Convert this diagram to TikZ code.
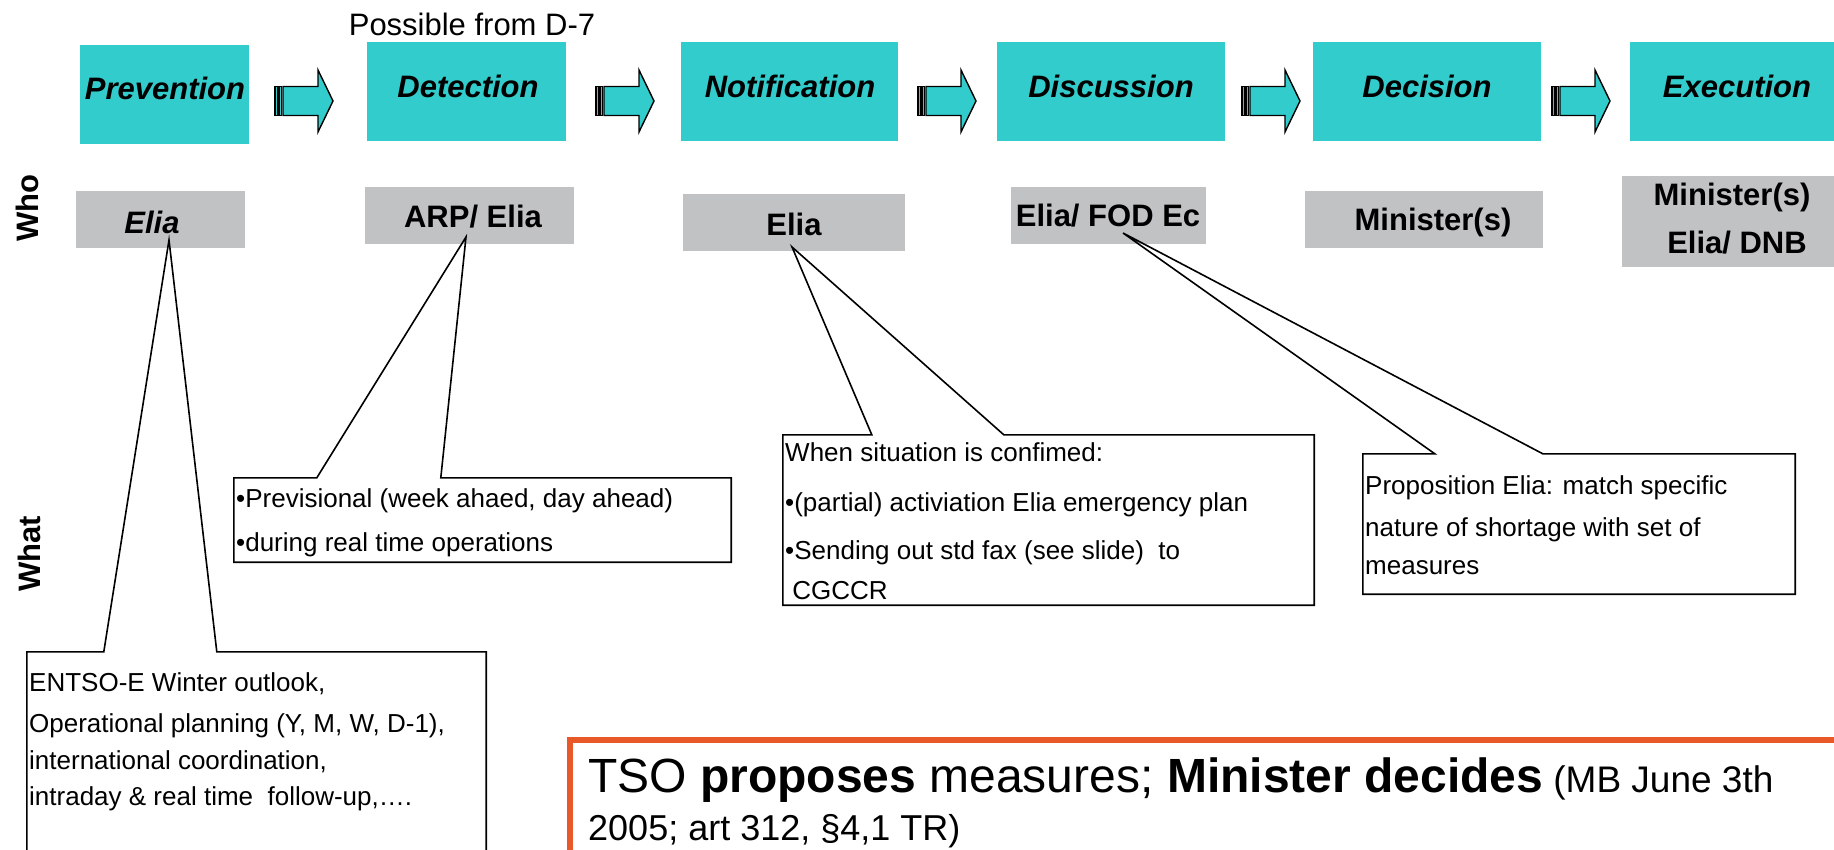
\documentclass[tikz,border=0pt]{standalone}
\usepackage{fontspec}
\setmainfont{Liberation Sans}
\usetikzlibrary{fit,calc}
\definecolor{tealbox}{RGB}{51,204,204}
\definecolor{greybox}{RGB}{192,194,196}
\definecolor{orangeline}{RGB}{232,88,40}
\newcommand{\fsz}[1]{\fontsize{#1}{#1}\selectfont}
\begin{document}
\begin{tikzpicture}[x=1pt,y=-1pt,
  phasebox/.style={fill=tealbox, draw=none, inner sep=0pt},
  whobox/.style={fill=greybox, draw=none, inner sep=0pt},
  phasetext/.style={font=\fsz{31}\bfseries\itshape, inner sep=0pt},
  whotext/.style={font=\fsz{31}\bfseries, inner sep=0pt},
  whoitext/.style={font=\fsz{31}\bfseries\itshape, inner sep=0pt},
  sidetext/.style={font=\fsz{31}\bfseries, inner sep=0pt, rotate=90},
  calltext/.style={font=\fsz{26}, inner sep=0pt, anchor=base west},
  callbox/.style={draw=none, inner sep=0pt},
  callout/.style={draw=black, line width=1.6pt, line join=miter},
  arrowline/.style={draw=black, fill=tealbox, line width=1.4pt},
  pics/striparrow/.style={code={
    \path[arrowline] (0,-14.5) rectangle (2.5,14.5);
    \path[arrowline] (4,-14.5) rectangle (6.5,14.5);
    \path[arrowline] (8,-14.5) -- (43,-14.5) -- (43,-31) -- (58,0) -- (43,31) -- (43,14.5) -- (8,14.5) -- cycle;
  }}
]
\useasboundingbox (0,0) rectangle (1834,850);
\clip (0,0) rectangle (1834,850);

% phase boxes
\node[phasebox, fit={(80,45) (249,144)}] (prev) {};
\node[phasebox, fit={(367,42) (566,141)}] (det) {};
\node[phasebox, fit={(681,42) (898,141)}] (notif) {};
\node[phasebox, fit={(997,42) (1225,141)}] (disc) {};
\node[phasebox, fit={(1313,42) (1541,141)}] (deci) {};
\node[phasebox, fit={(1630,42) (1860,141)}] (exec) {};

\node[phasetext] (prevT) at (165,88) {Prevention};
\node[phasetext] (detT) at (468,86) {Detection};
\node[phasetext] (notifT) at (790,86) {Notification};
\node[phasetext] (discT) at (1111,86) {Discussion};
\node[phasetext] (deciT) at (1427,86) {Decision};
\node[phasetext] (execT) at (1737,86) {Execution};

\node[font=\fsz{31}, inner sep=0pt] (poss) at (472,24) {Possible from D-7};

% block arrows
\pic (ar1) at (275,101) {striparrow};
\pic (ar2) at (596,101) {striparrow};
\pic (ar3) at (918,101) {striparrow};
\pic (ar4) at (1242,101) {striparrow};
\pic (ar5) at (1552,101) {striparrow};

% who boxes
\node[whobox, fit={(76,191) (245,248)}] (g1) {};
\node[whobox, fit={(365,187) (574,244)}] (g2) {};
\node[whobox, fit={(683,194) (905,251)}] (g3) {};
\node[whobox, fit={(1011,187) (1206,244)}] (g4) {};
\node[whobox, fit={(1305,191) (1543,248)}] (g5) {};
\node[whobox, fit={(1622,176) (1860,267)}] (g6) {};

\node[whoitext] (g1T) at (152,222) {Elia};
\node[whotext] (g2T) at (473,217) {ARP/ Elia};
\node[whotext] (g3T) at (794,224) {Elia};
\node[whotext] (g4T) at (1108,216) {Elia/ FOD Ec};
\node[whotext] (g5T) at (1433,222) {Minister(s)};
\node[whotext] (g6Ta) at (1732,197) {Minister(s)};
\node[whotext] (g6Tb) at (1737,243) {Elia/ DNB};

\node[sidetext] (who) at (27,208) {Who};
\node[sidetext] (what) at (29,554) {What};

% callout tips
\coordinate (tip1) at (169,240);
\coordinate (tip2) at (466,237);
\coordinate (tip3) at (792,247);
\coordinate (tip4) at (1123,233);

% callout boxes
\node[callbox, fit={(27,652) (486,890)}] (c1) {};
\node[callbox, fit={(234,478) (731,562)}] (c2) {};
\node[callbox, fit={(783,435) (1314,605)}] (c3) {};
\node[callbox, fit={(1363,454) (1795,594)}] (c4) {};

\draw[callout] (c1.north west) -- ($(c1.north west)+(77,0)$) -- (tip1) -- ($(c1.north west)+(190,0)$) -- (c1.north east) -- (c1.south east) -- (c1.south west) -- cycle;
\draw[callout] (c2.north west) -- ($(c2.north west)+(83,0)$) -- (tip2) -- ($(c2.north west)+(207,0)$) -- (c2.north east) -- (c2.south east) -- (c2.south west) -- cycle;
\draw[callout] (c3.north west) -- ($(c3.north west)+(89,0)$) -- (tip3) -- ($(c3.north west)+(221,0)$) -- (c3.north east) -- (c3.south east) -- (c3.south west) -- cycle;
\draw[callout] (c4.north west) -- ($(c4.north west)+(72,0)$) -- (tip4) -- ($(c4.north west)+(180,0)$) -- (c4.north east) -- (c4.south east) -- (c4.south west) -- cycle;

% callout texts
\node[calltext] (c1a) at (29,691) {ENTSO-E Winter outlook,};
\node[calltext] (c1b) at (29,732) {Operational planning (Y, M, W, D-1),};
\node[calltext] (c1c) at (29,769) {international coordination,};
\node[calltext] (c1d) at (29,805) {intraday \& real time\ \ follow-up,….};

\node[calltext] (c2a) at (236,507) {•Previsional (week ahaed, day ahead)};
\node[calltext] (c2b) at (236,551) {•during real time operations};

\node[calltext] (c3a) at (785,461) {When situation is confimed:};
\node[calltext] (c3b) at (785,511) {•(partial) activiation Elia emergency plan};
\node[calltext] (c3c) at (785,559) {•Sending out std fax (see slide)\ \ to};
\node[calltext] (c3d) at (785,599) {\ CGCCR};

\node[calltext] (c4a) at (1365,494) {Proposition Elia: match specific};
\node[calltext] (c4b) at (1365,536) {nature of shortage with set of};
\node[calltext] (c4c) at (1365,574) {measures};

% bottom note
\node[draw=orangeline, line width=6pt, inner sep=0pt, fit={(570,740) (1870,900)}] (note) {};
\node[anchor=base west, inner sep=0pt] (note1) at (588,792) {\fsz{48}TSO \textbf{proposes} measures; \textbf{Minister decides}{\fsz{37} (MB June 3th}};
\node[anchor=base west, inner sep=0pt] (note2) at (588,840) {\fsz{36}2005; art 312, §4,1 TR)};
\end{tikzpicture}
\end{document}
